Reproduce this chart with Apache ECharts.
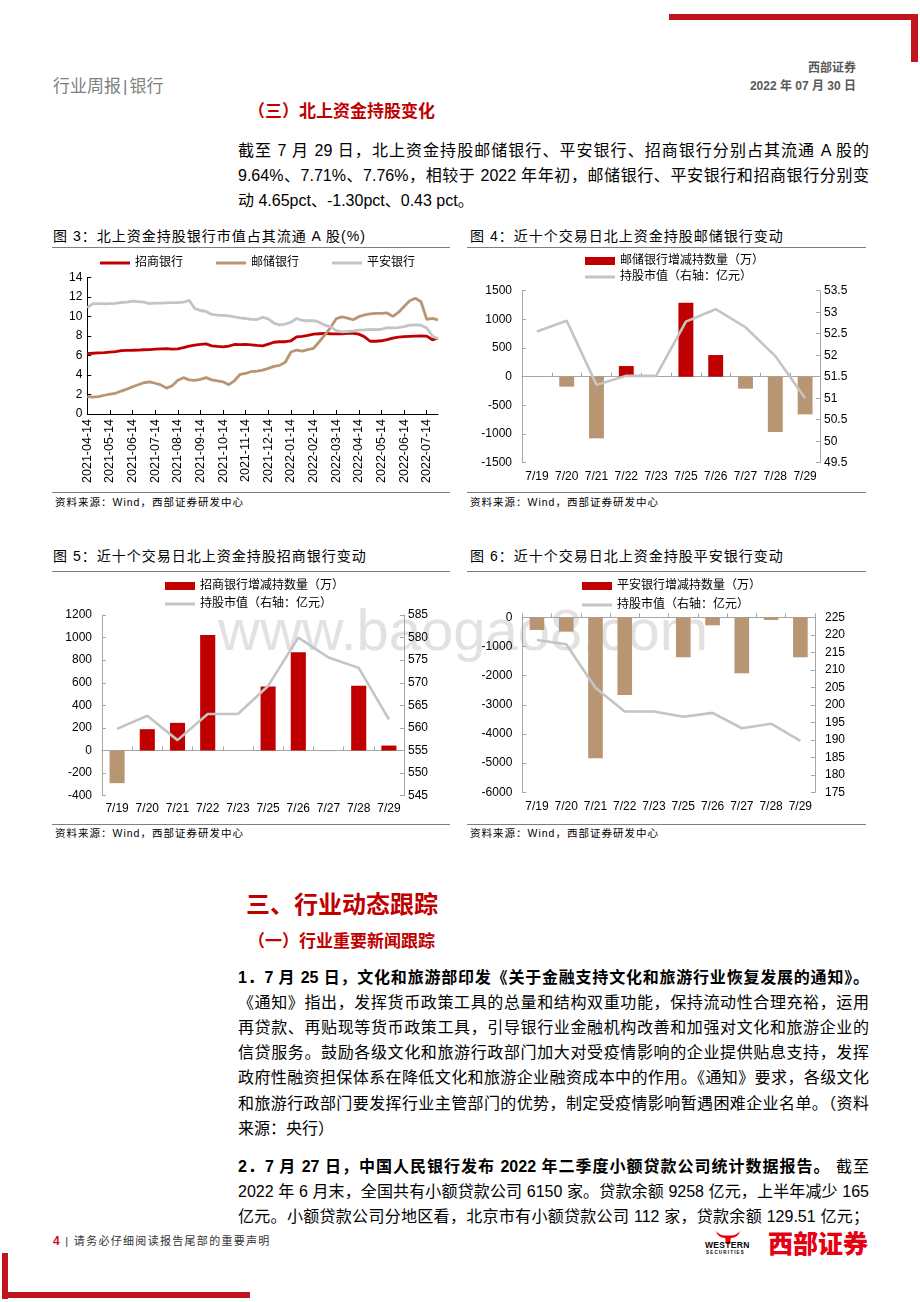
<!DOCTYPE html>
<html><head><meta charset="utf-8">
<script src="https://cdn.jsdelivr.net/npm/echarts/dist/echarts.min.js"></script>
<style>
*{margin:0;padding:0;box-sizing:border-box}
body{width:920px;height:1302px;position:relative;background:#fff;font-family:"Liberation Sans","Noto Sans CJK SC",sans-serif;color:#000;overflow:hidden}
.a{position:absolute;white-space:nowrap}
.ln{position:absolute;left:238px;width:631px;height:25px;line-height:25px;font-size:16px;text-align:justify;text-align-last:justify;overflow:hidden}
.last{text-align-last:left}
.ct{position:absolute;font-size:14px;letter-spacing:1px;height:16px;line-height:16px;white-space:nowrap}
.src{position:absolute;font-size:10.5px;letter-spacing:1px;height:12px;line-height:12px;white-space:nowrap;color:#000}
.hr{position:absolute;height:1px;background:#7f7f7f}
.red{color:#C00000}
.chart{position:absolute}
.wm{position:absolute;left:218px;top:601px;font-size:58px;line-height:58px;color:#e2e2e2;font-family:"Liberation Sans",sans-serif;white-space:nowrap}
</style></head>
<body>
<!-- decorations -->
<div class="a" style="left:669px;top:14px;width:249px;height:6px;background:#C0141E"></div>
<div class="a" style="left:911px;top:14px;width:7px;height:48px;background:#C0141E"></div>
<div class="a" style="left:2px;top:1253px;width:6px;height:46px;background:#C0141E"></div>
<div class="a" style="left:2px;top:1292px;width:248px;height:6px;background:#C0141E"></div>

<div class="a" style="left:53px;top:77px;font-size:17px;line-height:20px;color:#808080">行业周报<span style="margin:0 2px">|</span>银行</div>
<div class="a" style="right:64px;top:61px;font-size:12px;line-height:14px;color:#595959;font-weight:bold">西部证券</div>
<div class="a" style="right:64px;top:79px;font-size:12px;line-height:14px;color:#595959;font-weight:bold">2022 年 07 月 30 日</div>

<div class="a red" style="left:248px;top:102px;font-size:17px;line-height:20px;font-weight:bold">（三）北上资金持股变化</div>
<div class="ln" style="top:137.5px">截至 7 月 29 日，北上资金持股邮储银行、平安银行、招商银行分别占其流通 A 股的</div>
<div class="ln" style="top:162.5px">9.64%、7.71%、7.76%，相较于 2022 年年初，邮储银行、平安银行和招商银行分别变</div>
<div class="ln last" style="top:187.5px">动 4.65pct、-1.30pct、0.43 pct。</div>

<div class="wm">www.baogao8.com</div>

<!-- chart titles and rules -->
<div class="ct" style="left:53px;top:228px">图 3：北上资金持股银行市值占其流通 A 股(%)</div>
<div class="ct" style="left:470px;top:228px">图 4：近十个交易日北上资金持股邮储银行变动</div>
<div class="hr" style="left:52px;top:246.5px;width:398px"></div>
<div class="hr" style="left:467px;top:246.5px;width:399px"></div>
<div class="hr" style="left:52px;top:492px;width:398px"></div>
<div class="hr" style="left:467px;top:492px;width:399px"></div>
<div class="src" style="left:55px;top:496px">资料来源：Wind，西部证券研发中心</div>
<div class="src" style="left:470px;top:496px">资料来源：Wind，西部证券研发中心</div>

<div class="ct" style="left:53px;top:548px">图 5：近十个交易日北上资金持股招商银行变动</div>
<div class="ct" style="left:470px;top:548px">图 6：近十个交易日北上资金持股平安银行变动</div>
<div class="hr" style="left:52px;top:571px;width:398px"></div>
<div class="hr" style="left:467px;top:571px;width:399px"></div>
<div class="hr" style="left:52px;top:823.5px;width:398px"></div>
<div class="hr" style="left:467px;top:823.5px;width:399px"></div>
<div class="src" style="left:55px;top:827px">资料来源：Wind，西部证券研发中心</div>
<div class="src" style="left:470px;top:827px">资料来源：Wind，西部证券研发中心</div>

<div id="c3" class="chart" style="left:50px;top:250px;width:410px;height:240px"></div>
<div id="c4" class="chart" style="left:465px;top:250px;width:405px;height:240px"></div>
<div id="c5" class="chart" style="left:50px;top:575px;width:410px;height:245px"></div>
<div id="c6" class="chart" style="left:465px;top:575px;width:405px;height:245px"></div>

<!-- section 3 -->
<div class="a red" style="left:246px;top:891px;font-size:24px;line-height:28px;font-weight:bold">三、行业动态跟踪</div>
<div class="a red" style="left:248px;top:932px;font-size:17px;line-height:20px;font-weight:bold">（一）行业重要新闻跟踪</div>
<div class="ln" style="top:964.5px;font-weight:bold">1．7 月 25 日，文化和旅游部印发《关于金融支持文化和旅游行业恢复发展的通知》。</div>
<div class="ln" style="top:989.7px">《通知》指出，发挥货币政策工具的总量和结构双重功能，保持流动性合理充裕，运用</div>
<div class="ln" style="top:1014.9px">再贷款、再贴现等货币政策工具，引导银行业金融机构改善和加强对文化和旅游企业的</div>
<div class="ln" style="top:1040.1px">信贷服务。鼓励各级文化和旅游行政部门加大对受疫情影响的企业提供贴息支持，发挥</div>
<div class="ln" style="top:1065.3px">政府性融资担保体系在降低文化和旅游企业融资成本中的作用。《通知》要求，各级文化</div>
<div class="ln" style="top:1090.5px">和旅游行政部门要发挥行业主管部门的优势，制定受疫情影响暂遇困难企业名单。（资料</div>
<div class="ln last" style="top:1115.7px">来源：央行）</div>

<div class="ln" style="top:1153.5px"><b>2．7 月 27 日，中国人民银行发布 2022 年二季度小额贷款公司统计数据报告。</b> 截至</div>
<div class="ln" style="top:1178.5px">2022 年 6 月末，全国共有小额贷款公司 6150 家。贷款余额 9258 亿元，上半年减少 165</div>
<div class="ln" style="top:1203.5px">亿元。小额贷款公司分地区看，北京市有小额贷款公司 112 家，贷款余额 129.51 亿元；</div>

<!-- footer -->
<div class="a" style="left:53px;top:1234px;font-size:11px;line-height:14px;letter-spacing:1.3px;color:#333"><b style="color:#C0141E;font-size:12px">4</b> | 请务必仔细阅读报告尾部的重要声明</div>
<svg class="a" style="left:716px;top:1231px" width="24" height="15" viewBox="0 0 24 15">
<path d="M0,0 Q2,7 9,7 L15,7 Q22,7 24,0 Q20,4.5 15,4.5 L9,4.5 Q4,4.5 0,0 Z" fill="#E60012"/>
<path d="M9,6 L15,6 L14,13 L10,13 Z" fill="#E60012"/>
</svg>
<div class="a" style="left:705px;top:1240px;font-size:8.5px;line-height:10px;font-weight:bold;letter-spacing:0.3px">WESTERN</div>
<div class="a" style="left:706px;top:1250px;font-size:4.5px;line-height:5px;font-weight:bold;letter-spacing:1.2px">SECURITIES</div>
<div class="a" style="left:768px;top:1228px;font-size:25px;line-height:28px;font-weight:900;color:#E60012;font-family:'Noto Sans CJK SC'">西部证券</div>

<script>
// ---------- Figure 3 data (weekly readings) ----------
const dates3 = [
 '2021-04-14','2021-04-21','2021-04-28','2021-05-07',
 '2021-05-14','2021-05-21','2021-05-28','2021-06-07',
 '2021-06-14','2021-06-21','2021-06-28','2021-07-07',
 '2021-07-14','2021-07-21','2021-07-28','2021-08-06',
 '2021-08-14','2021-08-21','2021-08-28','2021-09-07',
 '2021-09-14','2021-09-21','2021-09-28','2021-10-07',
 '2021-10-14','2021-10-21','2021-10-28','2021-11-07',
 '2021-11-14','2021-11-21','2021-11-28','2021-12-07',
 '2021-12-14','2021-12-21','2021-12-28','2022-01-07',
 '2022-01-14','2022-01-21','2022-01-28','2022-02-07',
 '2022-02-14','2022-02-21','2022-02-28','2022-03-07',
 '2022-03-14','2022-03-21','2022-03-28','2022-04-07',
 '2022-04-14','2022-04-21','2022-04-28','2022-05-07',
 '2022-05-14','2022-05-21','2022-05-28','2022-06-07',
 '2022-06-14','2022-06-21','2022-06-28','2022-07-07',
 '2022-07-14','2022-07-21','2022-07-29'];
const cmbShare = [6.19,6.22,6.25,6.28, 6.33,6.38,6.50,6.52, 6.53,6.55,6.58,6.60, 6.65,6.68,6.70,6.65,
 6.68,6.80,6.95,7.05, 7.12,7.18,6.98,6.92, 6.88,6.95,7.12,7.10, 7.12,7.08,7.02,6.98,
 7.15,7.35,7.40,7.40, 7.50,7.90,7.95,8.05, 8.18,8.22,8.25,8.22, 8.20,8.22,8.25,8.25,
 8.18,7.90,7.45,7.45, 7.50,7.62,7.78,7.88, 7.92,7.95,7.98,8.00, 7.98,7.60,7.76];
const psbcShare = [1.77,1.72,1.78,1.92, 2.04,2.12,2.35,2.55, 2.79,3.00,3.20,3.30, 3.15,2.98,2.65,2.90,
 3.45,3.72,3.50,3.45, 3.55,3.72,3.50,3.40, 3.30,3.00,3.40,4.05, 4.15,4.35,4.40,4.50,
 4.68,4.88,4.98,5.30, 6.35,6.55,6.45,6.60, 6.73,7.40,8.10,8.85, 9.75,9.95,9.82,9.65,
 9.97,10.14,10.25,10.30, 10.30,10.35,10.00,10.40, 11.00,11.60,11.85,11.50, 9.70,9.80,9.64];
const pinganShare = [10.90,11.30,11.30,11.28, 11.30,11.32,11.42,11.46, 11.56,11.50,11.45,11.30, 11.36,11.35,11.38,11.40,
 11.40,11.45,11.65,10.80, 10.60,10.50,10.20,10.12, 10.10,10.05,9.95,9.85, 9.78,9.70,9.68,9.90,
 9.75,9.30,9.12,9.20, 9.40,9.78,9.58,9.55, 9.56,9.40,9.10,8.92, 8.55,8.42,8.45,8.50,
 8.60,8.62,8.67,8.65, 8.68,8.85,8.82,8.85, 8.95,9.10,9.12,9.10, 8.80,8.00,7.71];
const names3 = ['招商银行','邮储银行','平安银行'];
const yTicks3 = {min:0, max:14, step:2};

// ---------- Figures 4-6 data ----------
const days = ['7/19','7/20','7/21','7/22','7/23','7/25','7/26','7/27','7/28','7/29'];
const psbcChange = [-5,-174,-1075,186,0,1290,378,-209,-965,-657];
const psbcValue  = [52.55,52.80,51.31,51.52,51.52,52.78,53.07,52.65,51.98,51.00];
const cmbChange  = [-289,189,245,1024,0,567,871,-5,573,44];
const cmbValue   = [559.8,562.7,557.3,563.1,563.1,569.3,580.0,575.6,573.3,561.9];
const paChange   = [-434,-491,-4834,-2663,0,-1371,-274,-1920,-91,-1371];
const paValue    = [218.5,217.3,204.9,198.1,198.1,196.6,197.7,193.3,194.6,189.7];
const lineName = '持股市值（右轴：亿元）';

const RED = '#C00000', TAN = '#B99673', GREY = '#C4C4C4', AX = '#a6a6a6';
const FONT = '"Liberation Sans","Noto Sans CJK SC",sans-serif';
const plain = v => String(v);

// ---------- Figure 3 ----------
(function(){
  const ch = echarts.init(document.getElementById('c3'), null, {renderer:'canvas'});
  const show14 = (i, v) => v.slice(8) === '14';
  const colors = [RED, TAN, GREY];
  const data = [cmbShare, psbcShare, pinganShare];
  ch.setOption({
    animation:false,
    textStyle:{fontFamily:FONT},
    legend:{left:45, top:2, icon:'rect', itemWidth:30, itemHeight:3, itemGap:33,
      textStyle:{fontSize:12, color:'#000', fontFamily:FONT}, data:names3},
    grid:{left:37.3, top:27.3, width:350.7, height:136.7},
    xAxis:{type:'category', data:dates3, boundaryGap:false,
      axisLine:{lineStyle:{color:'#000'}},
      axisTick:{show:true, interval:show14, length:4, inside:true, lineStyle:{color:'#000'}},
      axisLabel:{rotate:90, interval:show14, fontSize:12.5, color:'#000', margin:5, fontFamily:FONT}},
    yAxis:{type:'value', min:yTicks3.min, max:yTicks3.max, interval:yTicks3.step,
      axisLine:{show:true, lineStyle:{color:'#000'}},
      axisTick:{show:true, inside:true, length:4, lineStyle:{color:'#000'}},
      axisLabel:{fontSize:12, color:'#000', margin:5, fontFamily:FONT, formatter:plain},
      splitLine:{show:false}},
    series: names3.map((n, k) => ({type:'line', name:n, data:data[k], symbol:'none',
      lineStyle:{color:colors[k], width:2.8}, itemStyle:{color:colors[k]}}))
  });
})();

// ---------- Figures 4-6 ----------
function barLine(id, o){
  const ch = echarts.init(document.getElementById(id), null, {renderer:'canvas'});
  const lgText = {fontSize:12, color:'#000', fontFamily:FONT};
  ch.setOption({
    animation:false,
    textStyle:{fontFamily:FONT},
    legend:[
      {data:[o.barName], left:o.lgLeft, top:o.lgTop1, icon:'rect', itemWidth:30, itemHeight:8, textStyle:lgText},
      {data:[lineName], left:o.lgLeft, top:o.lgTop2, icon:'rect', itemWidth:30, itemHeight:3, textStyle:lgText}
    ],
    grid:o.grid,
    xAxis:[
      {type:'category', data:days, position:'bottom',
        axisLine:{show:false, onZero:false}, axisTick:{show:false},
        axisLabel:{interval:0, fontSize:12, color:'#000', margin:o.xMargin, fontFamily:FONT}},
      {type:'category', data:days, position:'bottom',
        axisLine:{show:true, onZero:true, onZeroAxisIndex:0, lineStyle:{color:AX}},
        axisTick:{show:true, interval:0, length:4, inside:true, lineStyle:{color:AX}}, axisLabel:{show:false}}
    ],
    yAxis:[
      {type:'value', min:o.l[0], max:o.l[1], interval:o.l[2], splitLine:{show:false},
        axisLine:{show:true, lineStyle:{color:AX}}, axisTick:{show:true, inside:true, length:4, lineStyle:{color:AX}},
        axisLabel:{fontSize:12, color:'#000', margin:10, fontFamily:FONT, formatter:plain}},
      {type:'value', position:'right', min:o.r[0], max:o.r[1], interval:o.r[2], splitLine:{show:false},
        axisLine:{show:true, lineStyle:{color:AX}}, axisTick:{show:true, inside:true, length:4, lineStyle:{color:AX}},
        axisLabel:{fontSize:12, color:'#000', margin:o.rMargin, fontFamily:FONT, formatter:plain}}
    ],
    series:[
      {type:'bar', name:o.barName, xAxisIndex:0, yAxisIndex:0, barWidth:'50%',
        itemStyle:{color:RED},
        data:o.bars.map(v => ({value:v, itemStyle:{color: v < 0 ? TAN : RED}}))},
      {type:'line', name:lineName, xAxisIndex:0, yAxisIndex:1, data:o.line, symbol:'none',
        lineStyle:{color:GREY, width:2.6}, itemStyle:{color:GREY}}
    ]
  });
}

barLine('c4', {barName:'邮储银行增减持数量（万）', bars:psbcChange, line:psbcValue,
  l:[-1500,1500,500], r:[49.5,53.5,0.5], lgLeft:115, lgTop1:0, lgTop2:16,
  grid:{left:57, top:40.7, width:298, height:172}, xMargin:8, rMargin:4});
barLine('c5', {barName:'招商银行增减持数量（万）', bars:cmbChange, line:cmbValue,
  l:[-400,1200,200], r:[545,585,5], lgLeft:110, lgTop1:0, lgTop2:18,
  grid:{left:52, top:40, width:302, height:180.7}, xMargin:7, rMargin:4});
barLine('c6', {barName:'平安银行增减持数量（万）', bars:paChange, line:paValue,
  l:[-6000,0,1000], r:[175,225,5], lgLeft:112, lgTop1:0, lgTop2:19,
  grid:{left:57.3, top:42.3, width:292.7, height:175}, xMargin:8, rMargin:10});
</script>
</body></html>
